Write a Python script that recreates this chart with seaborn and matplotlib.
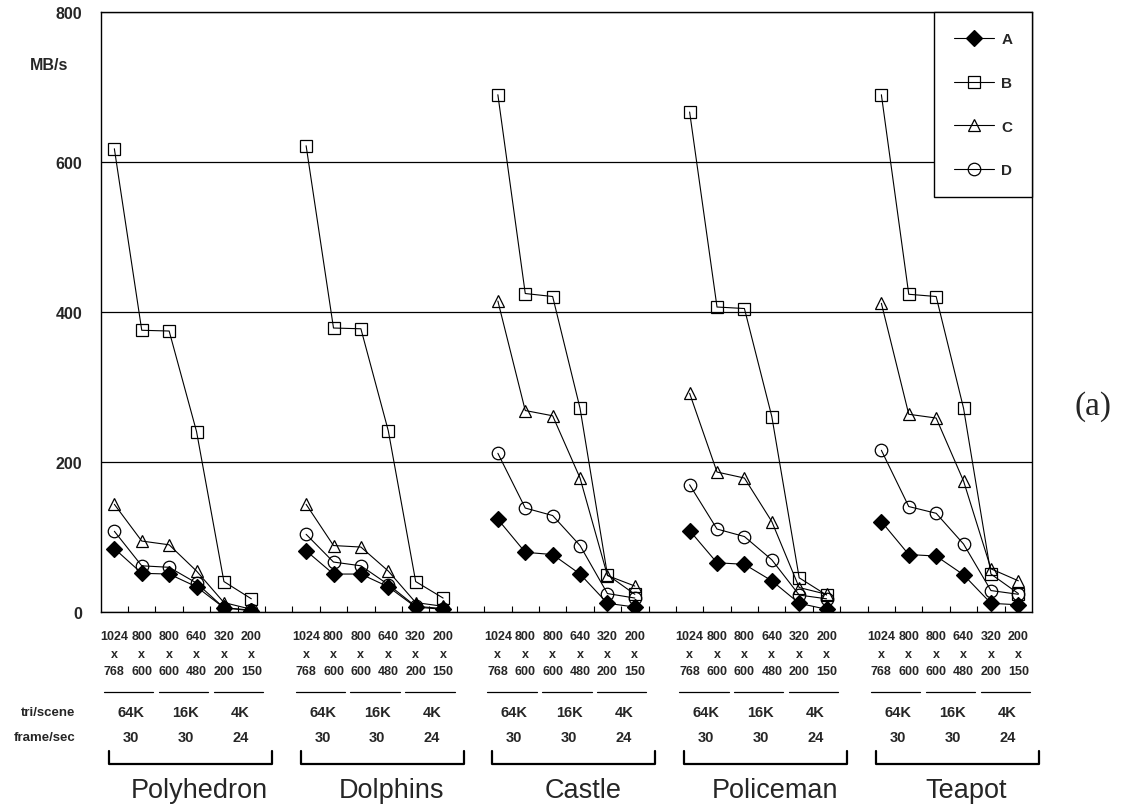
import numpy as np
import pandas as pd
import matplotlib
matplotlib.use("Agg")
import matplotlib.pyplot as plt
import matplotlib.transforms as mtransforms
from matplotlib.lines import Line2D
import seaborn as sns

# ---------------- data ----------------
groups = ["Polyhedron", "Dolphins", "Castle", "Policeman", "Teapot"]
res_w = ["1024", "800", "800", "640", "320", "200"]
res_h = ["768", "600", "600", "480", "200", "150"]
tri_labels = ["64K", "16K", "4K"]
fps_labels = ["30", "30", "24"]
series_names = ["A", "B", "C", "D"]

series_A = [85, 52, 51, 34, 6, 2,
            82, 51, 51, 34, 7, 4,
            124, 80, 77, 51, 12, 7,
            109, 66, 64, 42, 12, 4,
            121, 77, 75, 50, 12, 10]
series_B = [618, 376, 375, 241, 41, 18,
            622, 379, 378, 242, 41, 19,
            690, 425, 421, 272, 50, 24,
            667, 407, 405, 261, 46, 23,
            690, 424, 421, 272, 51, 25]
series_C = [144, 95, 90, 55, 13, 4,
            144, 89, 87, 55, 13, 8,
            415, 269, 262, 179, 49, 35,
            292, 187, 179, 121, 33, 24,
            412, 264, 259, 175, 58, 42]
series_D = [108, 62, 60, 39, 6, 3,
            104, 67, 62, 37, 8, 5,
            212, 139, 129, 89, 25, 19,
            170, 111, 101, 70, 23, 18,
            216, 141, 132, 91, 29, 24]

values = {"A": series_A, "B": series_B, "C": series_C, "D": series_D}
n_res = len(res_w)
slot_step = n_res + 1  # one empty slot between groups

rows = []
for s in series_names:
    for gi, g in enumerate(groups):
        for i in range(n_res):
            rows.append({"series": s, "group": g,
                         "slot": gi * slot_step + i,
                         "value": values[s][gi * n_res + i]})
df = pd.DataFrame(rows)

# ---------------- style ----------------
sns.set_theme(style="white")
plt.rcParams["font.family"] = ["Liberation Sans", "DejaVu Sans"]

fig = plt.figure(figsize=(11.31, 8.12), dpi=100)
ax = fig.add_axes([0.089, 0.2447, 0.8235, 0.739])

markers = {"A": "D", "B": "s", "C": "^", "D": "o"}
faces = {"A": "black", "B": "none", "C": "none", "D": "none"}
msize = {"A": 8, "B": 9, "C": 9, "D": 9}

for s in ["B", "C", "D", "A"]:
    sns.lineplot(data=df[df["series"] == s], x="slot", y="value",
                 units="group", estimator=None, color="black",
                 marker=markers[s], markersize=msize[s],
                 markerfacecolor=faces[s], markeredgecolor="black",
                 markeredgewidth=0.9, linewidth=0.8, ax=ax, legend=False)

n_slots = len(groups) * slot_step - 1
ax.set_xlim(-0.5, n_slots - 0.5)
ax.set_ylim(0, 800)
ax.set_xlabel("")
ax.set_ylabel("")

ax.set_yticks([0, 200, 400, 600, 800])
ax.set_yticklabels(["0", "200", "400", "600", "800"], fontsize=11.5, fontweight="bold")
ax.tick_params(axis="y", length=0, pad=13)
ax.yaxis.grid(True, color="black", linewidth=0.9)
ax.xaxis.grid(False)
ax.set_axisbelow(True)

ax.set_xticks([])
ax.set_xticks(np.arange(0.5, n_slots - 0.5, 1.0), minor=True)
ax.tick_params(axis="x", which="minor", direction="in", length=4, width=0.8,
               color="black", bottom=True, labelbottom=False)

for sp in ax.spines.values():
    sp.set_color("black")
    sp.set_linewidth(1.0)

fig.text(30 / 1131, 1 - 65 / 812, "MB/s", fontsize=11.5, fontweight="bold",
         ha="left", va="center")

# ---------------- category annotations ----------------
trans = mtransforms.blended_transform_factory(ax.transData, ax.transAxes)
for gi, g in enumerate(groups):
    base = gi * slot_step
    for i in range(n_res):
        x = base + i
        ax.text(x, -0.040, res_w[i], transform=trans, ha="center", va="center",
                fontsize=9, fontweight="bold")
        ax.text(x, -0.069, "x", transform=trans, ha="center", va="center",
                fontsize=9, fontweight="bold")
        ax.text(x, -0.098, res_h[i], transform=trans, ha="center", va="center",
                fontsize=9, fontweight="bold")
    for p in range(3):
        x0 = base + 2 * p - 0.5 + 0.12
        x1 = base + 2 * p + 1.5 - 0.08
        ax.add_artist(Line2D([x0, x1], [-0.133, -0.133], transform=trans,
                             color="black", linewidth=0.9, clip_on=False))
        xc = base + 2 * p + 0.6
        ax.text(xc, -0.166, tri_labels[p], transform=trans, ha="center",
                va="center", fontsize=10.5, fontweight="bold")
        ax.text(xc, -0.208, fps_labels[p], transform=trans, ha="center",
                va="center", fontsize=10.5, fontweight="bold")
    bx0 = base - 0.5 + 0.3
    bx1 = base + n_res - 0.5 + 0.25
    ax.add_artist(Line2D([bx0, bx0, bx1, bx1], [-0.231, -0.253, -0.253, -0.231],
                         transform=trans, color="black", linewidth=1.6,
                         clip_on=False))
    ax.text(base + 2.5 + 0.6, -0.296, g, transform=trans, ha="center",
            va="center", fontsize=19.5)

fig.text(75 / 1131, 1 - 713 / 812, "tri/scene", ha="right", va="center",
         fontsize=9.5, fontweight="bold")
fig.text(75 / 1131, 1 - 738 / 812, "frame/sec", ha="right", va="center",
         fontsize=9.5, fontweight="bold")

fig.text(1093 / 1131, 1 - 407 / 812, "(a)", ha="center", va="center",
         fontsize=24, family=["Liberation Serif", "DejaVu Serif"])

# ---------------- legend ----------------
handles = [Line2D([], [], color="black", linewidth=0.8, marker=markers[s],
                  markersize=msize[s], markerfacecolor=faces[s],
                  markeredgecolor="black", markeredgewidth=0.9)
           for s in series_names]
leg = ax.legend(handles, series_names, loc="upper right", bbox_to_anchor=(1, 1),
                borderaxespad=0, frameon=True, fancybox=False, framealpha=1,
                edgecolor="black", prop={"weight": "bold", "size": 11},
                labelspacing=1.95, handlelength=2.6, handletextpad=0.5,
                borderpad=1.3)
leg.get_frame().set_linewidth(1.0)

fig.savefig("out.png", dpi=100, facecolor="white")
